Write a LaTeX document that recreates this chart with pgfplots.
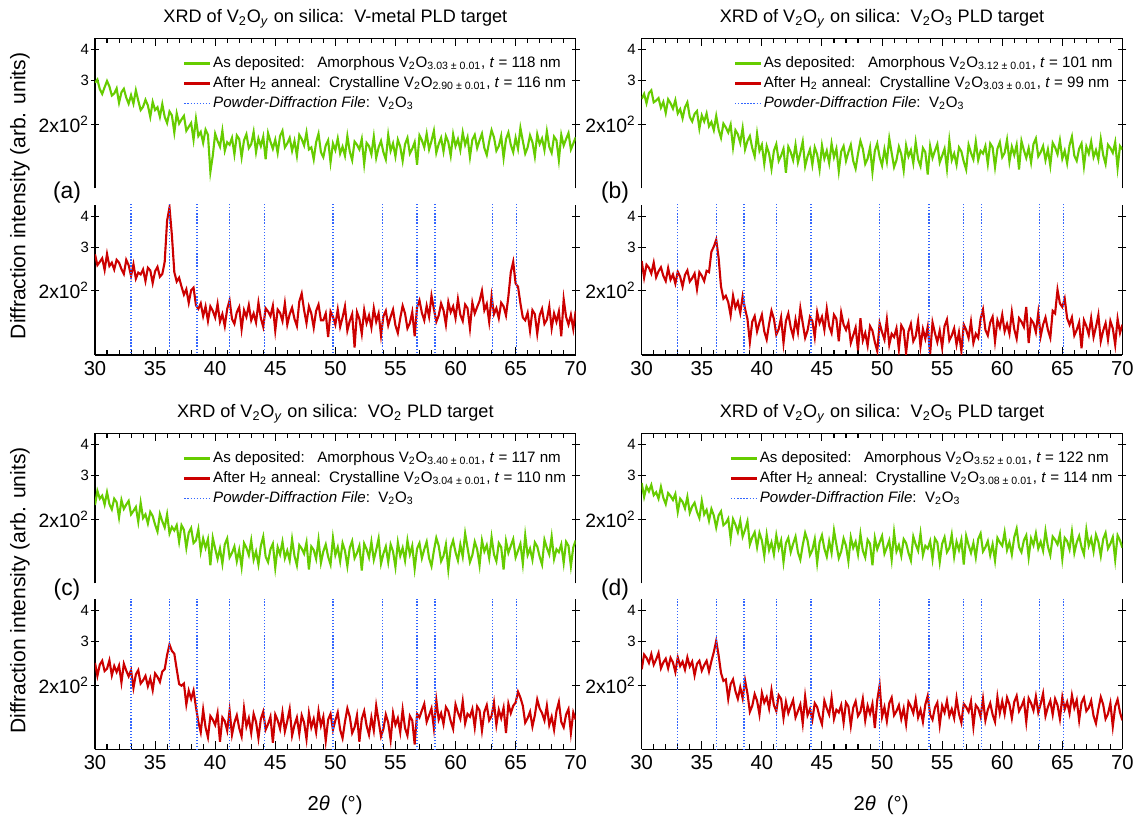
\documentclass[border=0pt]{standalone}
\usepackage{fontspec}
\setmainfont{Liberation Sans}
\usepackage{pgfplots}
\usepackage{pgfplotstable}
\pgfplotsset{compat=1.18}

\definecolor{asdepgreen}{HTML}{66CC00}
\definecolor{annealred}{HTML}{CC0000}
\definecolor{pdfblue}{HTML}{3366FF}

% XRD scans, 2theta step 0.2 deg; T = as deposited (top), B = after H2 anneal (bottom)
\pgfplotstableread{
x aT aB bT bB cT cB dT dB
30.0 294 281 253 264 228 246 280 232
30.2 303 254 265 226 260 218 246 266
30.4 277 262 243 255 242 242 271 258
30.6 265 271 267 248 249 251 259 246
30.8 282 243 274 235 229 228 275 267
31.0 299 282 245 260 257 233 250 242
31.2 284 252 249 227 230 252 257 254
31.4 261 260 255 240 219 219 242 270
31.6 266 244 233 249 242 239 270 234
31.8 279 267 246 230 234 226 244 247
32.0 244 260 222 219 203 240 230 256
32.2 269 245 252 247 239 205 255 234
32.4 278 234 243 222 220 244 248 258
32.6 256 267 231 233 229 229 239 247
32.8 242 254 250 214 237 217 253 226
33.0 262 230 221 239 209 230 214 259
33.2 242 256 230 228 216 195 242 239
33.4 274 224 211 208 224 221 235 249
33.6 249 237 234 232 195 230 221 231
33.8 228 233 245 242 233 203 246 259
34.0 235 244 214 218 202 209 212 238
34.2 251 219 205 225 209 218 225 249
34.4 238 248 220 235 192 198 233 219
34.6 214 242 226 203 214 213 214 244
34.8 246 215 192 238 206 191 202 251
35.0 228 240 217 230 190 223 237 229
35.2 234 250 205 219 178 216 209 241
35.4 214 228 221 241 210 206 218 251
35.6 241 234 196 238 196 227 197 227
35.8 214 262 204 288 185 232 220 250
36.0 202 385 189 302 209 265 207 272
36.2 225 435 216 322 175 292 185 302
36.4 217 335 190 272 186 275 207 264
36.6 185 238 176 208 180 268 215 224
36.8 221 218 201 186 189 232 189 208
37.0 201 226 194 191 162 202 193 211
37.2 209 208 185 180 189 199 201 176
37.4 216 193 199 159 181 203 167 202
37.6 188 203 161 191 153 167 200 211
37.8 195 179 189 171 176 190 190 189
38.0 202 201 182 181 184 176 177 176
38.2 173 206 168 163 160 190 197 196
38.4 210 175 193 190 164 163 170 177
38.6 179 169 158 169 182 142 181 209
38.8 186 178 171 154 148 129 196 185
39.0 168 158 179 124 167 159 158 156
39.2 190 173 160 150 153 135 169 165
39.4 181 151 148 158 166 123 177 184
39.6 128 173 183 137 130 150 154 173
39.8 149 166 156 149 168 145 176 152
40.0 183 156 165 160 152 138 164 186
40.2 171 177 138 137 138 154 142 170
40.4 162 150 163 127 152 118 173 179
40.6 188 161 152 147 132 148 150 161
40.8 156 144 132 166 158 143 161 191
41.0 169 169 156 154 167 131 144 166
41.2 165 183 166 133 140 158 172 157
41.4 176 154 142 140 146 126 152 182
41.6 151 147 149 156 155 141 164 176
41.8 180 164 159 123 135 151 134 147
42.0 174 172 127 151 150 134 160 171
42.2 147 140 162 162 128 124 168 154
42.4 172 167 154 142 160 161 147 164
42.6 182 157 143 131 153 136 159 174
42.8 160 175 165 153 143 147 170 148
43.0 166 152 140 136 164 128 147 157
43.2 186 162 153 170 137 153 137 167
43.4 154 149 170 148 148 142 157 140
43.6 175 179 135 129 131 122 176 180
43.8 163 155 148 138 156 146 164 151
44.0 178 143 158 157 170 156 143 160
44.2 144 170 137 151 141 132 150 145
44.4 184 165 161 130 134 139 166 169
44.6 170 158 151 164 151 149 133 163
44.8 159 174 131 148 159 117 161 149
45.0 173 138 164 157 127 152 172 139
45.2 153 168 145 139 154 144 152 173
45.4 179 163 156 169 144 133 141 161
45.6 188 151 139 144 162 155 163 152
45.8 161 178 167 135 139 130 146 178
46.0 167 146 147 160 149 143 180 146
46.2 176 161 159 154 136 160 158 159
46.4 156 171 129 125 166 125 139 155
46.6 171 154 155 163 142 138 148 166
46.8 149 144 163 146 130 148 167 141
47.0 181 181 142 139 157 127 156 170
47.2 174 195 154 149 152 151 135 164
47.4 164 167 165 123 145 141 169 137
47.6 185 148 142 132 161 121 153 162
47.8 158 173 132 142 125 154 162 172
48.0 161 162 152 115 155 135 144 150
48.2 144 142 171 155 150 146 174 156
48.4 169 166 159 126 138 129 149 176
48.6 183 176 138 135 165 157 140 144
48.8 154 152 145 120 133 137 165 165
49.0 147 152 161 144 148 149 159 153
49.2 164 162 128 138 158 119 130 168
49.4 172 130 156 124 141 145 168 134
49.6 140 165 167 114 131 153 151 174
49.8 167 157 147 148 168 132 161 200
50.0 157 146 136 136 143 144 171 149
50.2 175 168 158 127 154 155 145 163
50.4 152 143 141 153 135 132 154 143
50.6 162 156 175 121 160 122 164 169
50.8 149 173 153 134 149 142 137 178
51.0 179 138 134 130 129 161 177 151
51.2 155 151 143 141 153 149 148 157
51.4 143 161 162 116 163 128 157 166
51.6 170 118 151 145 139 135 142 146
51.8 165 164 130 139 146 151 166 161
52.0 158 154 164 112 156 118 160 139
52.2 174 134 148 137 124 146 146 171
52.4 138 167 157 147 159 157 136 164
52.6 168 148 139 125 151 137 170 154
52.8 163 159 169 131 140 126 158 175
53.0 151 142 144 151 162 148 149 148
53.2 178 170 135 119 137 131 175 159
53.4 146 150 160 140 150 165 143 142
53.6 161 162 154 128 167 143 156 167
53.8 171 132 125 143 132 124 152 181
54.0 154 158 163 111 145 133 163 152
54.2 144 166 146 149 155 152 138 145
54.4 181 145 156 135 134 141 167 162
54.6 156 157 166 124 158 120 161 170
54.8 167 168 140 138 148 154 134 138
55.0 148 145 149 118 128 138 159 165
55.2 173 135 159 144 161 147 169 155
55.4 162 155 132 153 142 129 147 173
55.6 142 174 172 126 153 159 153 150
55.8 166 162 143 132 136 134 173 160
56.0 176 141 152 141 164 125 141 147
56.2 152 148 137 121 144 150 162 177
56.4 159 164 161 136 156 144 150 153
56.6 169 131 155 114 126 115 165 141
56.8 137 172 141 146 152 153 131 168
57.0 180 183 131 139 160 148 171 163
57.2 172 163 165 129 139 158 157 156
57.4 161 152 153 150 151 168 146 172
57.6 183 174 144 123 162 142 160 136
57.8 158 157 170 134 139 151 140 166
58.0 171 191 143 129 129 161 166 161
58.2 188 169 156 154 149 134 175 149
58.4 153 150 152 168 168 174 148 176
58.6 166 159 163 139 156 145 154 144
58.8 176 178 138 132 135 154 163 159
59.0 155 167 167 149 142 139 143 169
59.2 179 146 161 157 158 163 158 152
59.4 169 180 134 125 125 157 136 142
59.6 149 164 159 152 153 143 168 179
59.8 182 173 169 142 164 133 161 154
60.0 163 155 147 160 147 167 156 172
60.2 174 185 153 137 136 155 177 153
60.4 157 160 173 147 158 146 150 178
60.6 185 151 141 134 141 172 161 167
60.8 165 176 162 164 175 140 144 147
61.0 177 170 150 140 153 153 169 171
61.2 147 141 165 128 134 149 183 181
61.4 173 179 131 155 143 160 154 157
61.6 181 162 171 150 162 135 147 164
61.8 160 172 157 143 151 164 164 174
62.0 172 182 146 172 130 158 172 142
62.2 183 200 160 123 164 131 140 177
62.4 160 167 140 153 148 156 167 169
62.6 150 177 166 148 157 166 157 158
62.8 170 150 175 136 139 144 175 180
63.0 189 190 148 163 169 150 152 155
63.2 177 161 154 131 144 170 162 168
63.4 156 170 163 146 135 138 149 185
63.6 163 155 143 156 160 159 179 150
63.8 179 179 158 139 154 147 155 163
64.0 146 173 136 129 125 162 143 173
64.2 174 159 168 166 163 128 170 152
64.4 185 190 161 162 146 168 165 176
64.6 165 238 151 202 156 154 158 166
64.8 154 262 172 178 166 165 174 146
65.0 176 214 145 172 140 170 138 179
65.2 159 208 156 186 149 188 168 160
65.4 193 178 139 155 159 178 163 171
65.6 171 156 164 146 132 165 151 154
65.8 152 152 178 156 172 141 178 182
66.0 161 163 149 132 143 147 146 162
66.2 180 138 142 139 152 156 161 174
66.4 169 167 159 149 137 136 171 144
66.6 148 161 167 117 161 151 154 170
66.8 182 134 135 152 155 175 144 178
67.0 166 159 162 144 141 161 181 157
67.2 175 169 152 133 131 154 156 162
67.4 157 147 170 155 165 144 167 173
67.6 187 153 147 130 153 165 148 150
67.8 162 173 157 143 144 138 173 140
68.0 153 141 144 160 170 149 162 160
68.2 178 162 174 125 138 132 142 179
68.4 172 150 150 138 151 157 166 167
68.6 143 165 138 148 147 171 176 146
68.8 181 131 165 127 158 142 152 153
69.0 164 185 160 151 133 135 159 169
69.2 174 157 153 141 162 152 169 136
69.4 184 146 169 121 156 160 137 164
69.6 158 160 133 154 129 128 172 175
69.8 167 140 163 135 154 155 164 155
70.0 177 166 158 146 164 145 153 144
}\xrddata

\pgfplotsset{
  xrd/.style={
    scale only axis, width=9.614cm, height=3cm, anchor=north west,
    xmin=30, xmax=70, ymin=110, ymax=445,
    xtick={30,35,...,70}, minor x tick num=4,
    ytick={200,300,400},
    yticklabels={{\fontsize{11}{12}\selectfont 2x10\textsuperscript{2}},
                 {\fontsize{8.5}{9}\selectfont 3},
                 {\fontsize{8.5}{9}\selectfont 4}},
    axis y line*=box,
    axis line style={-, line width=0.8pt},
    xtick align=inside, ytick align=center,
    major tick length=0.16cm, minor tick length=0.1cm,
    tick style={black, line width=0.6pt},
    yticklabel style={inner sep=1pt},
    /pgf/number format/assume math mode=true,
    xticklabel style={font=\fontsize{11.5}{12}\selectfont},
  },
  xrdtop/.style={xrd, axis x line*=top, xticklabels={},
    title style={at={(0.5,1)}, anchor=base, yshift=0.1cm,
                 font=\fontsize{10.3}{12}\selectfont},
    legend cell align=left,
    legend style={draw=none, fill=none, at={(0.984,0.897)}, anchor=north east,
                  inner sep=0pt, row sep=0.7pt, font=\fontsize{8.6}{10}\selectfont,
                  nodes={inner sep=1pt, text height=6.5pt, text depth=2.2pt}},
    legend image code/.code={\draw[##1] (0cm,0cm) -- (0.52cm,0cm);},
  },
  xrdbot/.style={xrd, axis x line*=bottom},
  asdep/.style={asdepgreen, line width=1.2pt},
  annealed/.style={annealred, line width=1.2pt},
  pdfline/.style={pdfblue, densely dotted, line width=0.75pt},
}

% #1 x, #2 y top axis, #3 y bottom axis, #4 column prefix, #5 target,
% #6/#7 amorphous y and t, #8/#9 crystalline y and t
\newcommand{\xrdpanel}[9]{%
  \begin{semilogyaxis}[xrdtop, at={(#1,#2)},
      title={XRD of V\textsubscript{2}O\textsubscript{\textit{y}} on silica:\ \ #5}]
    \addplot[asdep] table[x=x, y=#4T] {\xrddata};
    \addlegendentry{As deposited:\ \ \ Amorphous V\textsubscript{2}O\textsubscript{#6 ± 0.01}, \textit{t} = #7 nm}
    \addlegendimage{annealed}
    \addlegendentry{After H\textsubscript{2} anneal:\ \ Crystalline V\textsubscript{2}O\textsubscript{#8 ± 0.01}, \textit{t} = #9 nm}
    \addlegendimage{pdfline}
    \addlegendentry{\textit{Powder-Diffraction File}:\ \ V\textsubscript{2}O\textsubscript{3}}
  \end{semilogyaxis}
  \begin{semilogyaxis}[xrdbot, at={(#1,#3)}]
    \addplot[annealed] table[x=x, y=#4B] {\xrddata};
    \pgfplotsinvokeforeach{33.0,36.2,38.5,41.2,44.1,49.8,53.9,56.8,58.3,63.1,65.1}{
      \addplot[pdfline] coordinates {(##1,100) (##1,500)};}
  \end{semilogyaxis}}

\begin{document}
\begin{tikzpicture}
\useasboundingbox (0,0) rectangle (22.8cm,-16.6cm);

\xrdpanel{1.9cm}{-0.766cm}{-4.1cm}{a}{V-metal PLD target}{3.03}{118}{2.90}{116}
\xrdpanel{12.834cm}{-0.766cm}{-4.1cm}{b}{V\textsubscript{2}O\textsubscript{3} PLD target}{3.12}{101}{3.03}{99}
\xrdpanel{1.9cm}{-8.666cm}{-11.986cm}{c}{VO\textsubscript{2} PLD target}{3.40}{117}{3.04}{110}
\xrdpanel{12.834cm}{-8.666cm}{-11.986cm}{d}{V\textsubscript{2}O\textsubscript{5} PLD target}{3.52}{122}{3.08}{114}

\node[font=\fontsize{13}{14}\selectfont] at (1.34cm,-3.86cm) {(a)};
\node[font=\fontsize{13}{14}\selectfont] at (12.3cm,-3.86cm) {(b)};
\node[font=\fontsize{13}{14}\selectfont] at (1.34cm,-11.8cm) {(c)};
\node[font=\fontsize{13}{14}\selectfont] at (12.3cm,-11.8cm) {(d)};

\node[rotate=90, font=\fontsize{12}{14}\selectfont] at (0.4cm,-3.92cm) {Diffraction intensity (arb. units)};
\node[rotate=90, font=\fontsize{12}{14}\selectfont] at (0.4cm,-11.81cm) {Diffraction intensity (arb. units)};

\node[font=\fontsize{11.5}{14}\selectfont] at (6.7cm,-16.1cm) {2\textit{θ}\ \ (°)};
\node[font=\fontsize{11.5}{14}\selectfont] at (17.62cm,-16.1cm) {2\textit{θ}\ \ (°)};
\end{tikzpicture}
\end{document}
